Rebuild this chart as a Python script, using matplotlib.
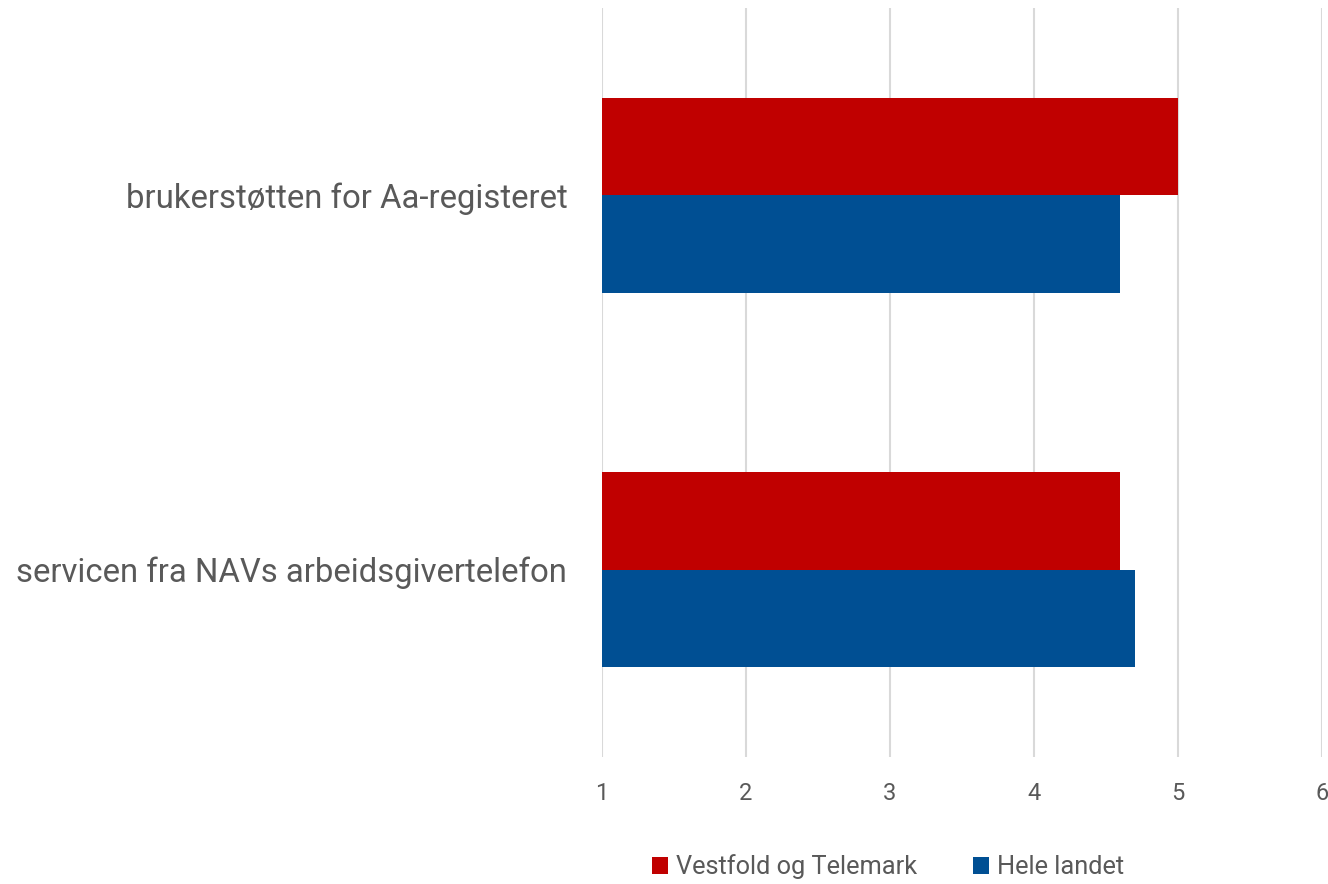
import matplotlib.pyplot as plt
import numpy as np

plt.rcParams['font.family'] = ['Roboto', 'DejaVu Sans']

categories = ['servicen fra NAVs arbeidsgivertelefon', 'brukerstøtten for Aa-registeret']
vestfold = [4.6, 5.0]
hele = [4.7, 4.6]
series_names = ['Vestfold og Telemark', 'Hele landet']
red = '#C00000'
blue = '#004F93'
txt = '#595959'

fig = plt.figure(figsize=(13.28, 8.84), dpi=100)
ax = fig.add_axes([602/1328, 1-757/884, 720/1328, 749/884])

y = np.arange(len(categories))
h = 0.261
ax.barh(y + h/2, np.array(vestfold) - 1, height=h, left=1, color=red, label=series_names[0], zorder=3)
ax.barh(y - h/2, np.array(hele) - 1, height=h, left=1, color=blue, label=series_names[1], zorder=3)

ax.set_xlim(1, 6)
ax.set_ylim(-0.5, 1.5)
ax.set_xticks(range(1, 7))
ax.set_yticks(y)
ax.set_yticklabels(categories, fontsize=23.7, color=txt)
ax.tick_params(axis='y', length=0, pad=25)
ax.tick_params(axis='x', length=0, pad=18, labelsize=17, labelcolor=txt)
ax.grid(axis='x', color='#D9D9D9', linewidth=1.5, zorder=0)
for s in ax.spines.values():
    s.set_visible(False)

leg = fig.legend(loc='center', bbox_to_anchor=(888/1328, 1-867/884), ncol=2, frameon=False,
                 fontsize=18.3, handlelength=0.65, handleheight=0.65, columnspacing=2.2, handletextpad=0.3)
for t in leg.get_texts():
    t.set_color(txt)

fig.savefig('out.png', dpi=100)
